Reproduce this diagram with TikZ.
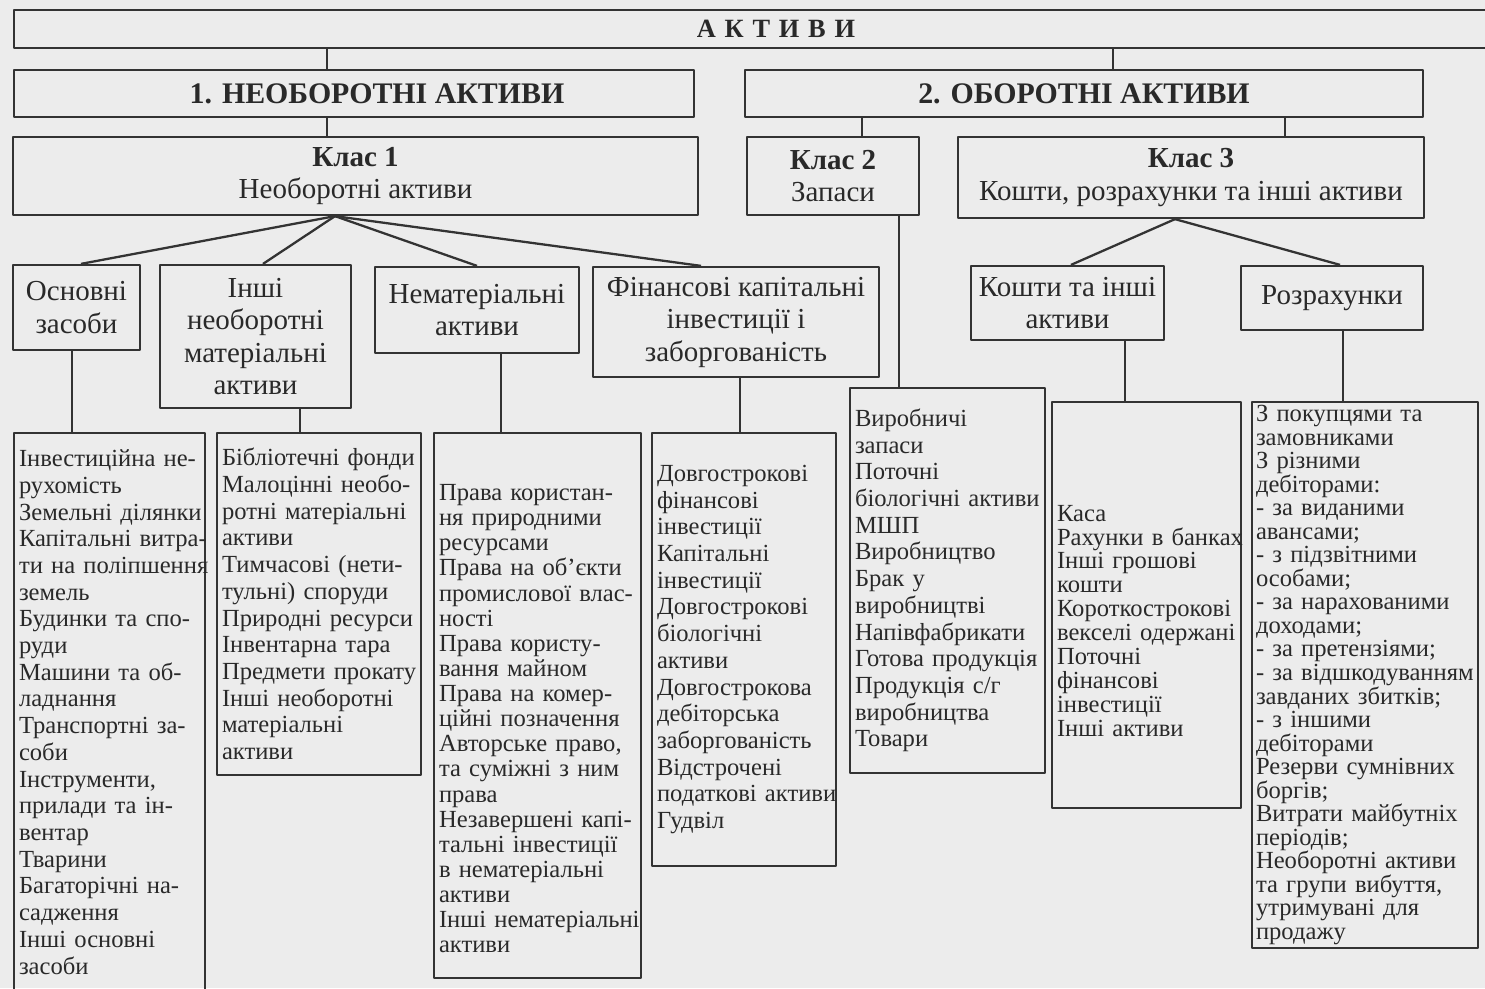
\documentclass[tikz,border=0pt]{standalone}
\usepackage{fontspec}
\setmainfont{Liberation Serif}
\definecolor{ink}{HTML}{333333}
\definecolor{paper}{HTML}{ECECEC}
\tikzset{
  box/.style = {draw=ink, line width=1.3pt, text=ink!80!black, inner sep=0pt, align=center, font=\fontsize{16.5}{18.5}\selectfont},
  title/.style = {box, font=\bfseries\fontsize{17}{19}\selectfont},
  list/.style = {draw=ink, line width=1.3pt, text=ink!80!black, inner xsep=0.1cm, inner ysep=0pt, align=left, font=\fontsize{14}{15.2}\selectfont,
    execute at begin node={\exhyphenpenalty=10000\relax\hyphenpenalty=10000\relax}},
}
\begin{document}
\begin{tikzpicture}[x=0.02cm, y=-0.02cm, color=ink, line width=1.3pt, line join=round]
    \useasboundingbox (0,0) rectangle (1485,988);
    \fill[paper] (0,0) rectangle (1485,988);

    % верхні рівні
    \node[title, font=\bfseries\fontsize{15}{17}\selectfont, minimum width=30.48cm, minimum height=0.76cm] (aktyvy) at (776,29) {А\kern5ptК\kern5ptТ\kern5ptИ\kern5ptВ\kern5ptИ};
    \node[title, minimum width=13.6cm, minimum height=0.94cm] (neob) at (354,93.5) {\hspace*{0.92cm}1. НЕОБОРОТНІ АКТИВИ};
    \node[title, minimum width=13.56cm, minimum height=0.94cm] (ob) at (1084,93.5) {2. ОБОРОТНІ АКТИВИ};

    % класи
    \node[box, minimum width=13.7cm, minimum height=1.56cm] (klas1) at (355.5,176) {\textbf{Клас 1}\\Необоротні активи};
    \node[box, minimum width=3.44cm, minimum height=1.56cm] (klas2) at (833,176) {\textbf{Клас 2}\\Запаси};
    \node[box, minimum width=9.32cm, minimum height=1.62cm] (klas3) at (1191,177.5) {\textbf{Клас 3}\\Кошти, розрахунки та інші активи};

    % групи
    \node[box, minimum width=2.54cm, minimum height=1.7cm] (osn) at (76.5,307.5) {Основні\\засоби};
    \node[box, minimum width=3.82cm, minimum height=2.86cm] (inshi) at (255.5,336.5) {Інші\\необоротні\\матеріальні\\активи};
    \node[box, minimum width=4.08cm, minimum height=1.72cm] (nemat) at (477,310) {Нематеріальні\\активи};
    \node[box, minimum width=5.72cm, minimum height=2.2cm] (fin) at (736,322) {Фінансові капітальні\\інвестиції і\\заборгованість};
    \node[box, minimum width=3.86cm, minimum height=1.48cm] (koshty) at (1067.5,303) {Кошти та інші\\активи};
    \node[box, minimum width=3.64cm, minimum height=1.28cm] (rozrah) at (1332,298) {Розрахунки};

    % переліки рахунків
    \node[list, text width=3.62cm, minimum height=11.16cm] (osnl) at (109.5,712) {Інвестиційна не-\\рухомість\\Земельні~ділянки\\Капітальні~витра-\\ти~на~поліпшення\\земель\\Будинки та спо-\\руди\\Машини та об-\\ладнання\\Транспортні~за-\\соби\\Інструменти,\\прилади та ін-\\вентар\\Тварини\\Багаторічні~на-\\садження\\Інші основні\\засоби};
    \node[list, text width=3.88cm, minimum height=6.84cm] (inshl) at (319,604) {Бібліотечні~фонди\\Малоцінні~необо-\\ротні~матеріальні\\активи\\Тимчасові~(нети-\\тульні)~споруди\\Природні~ресурси\\Інвентарна~тара\\Предмети~прокату\\Інші~необоротні\\матеріальні\\активи};
    \node[list, font=\fontsize{14}{14.3}\selectfont, text width=3.94cm, minimum height=10.9cm] (nemal) at (537.5,705.5) {\rule{0pt}{0.85cm}Права~користан-\\ня~природними\\ресурсами\\Права~на~об’єкти\\промислової~влас-\\ності\\Права~користу-\\вання~майном\\Права~на~комер-\\ційні~позначення\\Авторське~право,\\та~суміжні~з~ним\\права\\Незавершені~капі-\\тальні~інвестиції\\в~нематеріальні\\активи\\Інші~нематеріальні\\активи};
    \node[list, text width=3.48cm, minimum height=8.66cm] (finl) at (744,649.5) {Довгострокові\\фінансові\\інвестиції\\Капітальні\\інвестиції\\Довгострокові\\біологічні\\активи\\Довгострокова\\дебіторська\\заборгованість\\Відстрочені\\податкові~активи\\Гудвіл};
    \node[list, text width=3.70cm, minimum height=7.7cm] (zapl) at (947.5,580.5) {Виробничі\\запаси\\Поточні\\біологічні~активи\\МШП\\Виробництво\\Брак у\\виробництві\\Напівфабрикати\\Готова~продукція\\Продукція~с/г\\виробництва\\Товари};
    \node[list, font=\fontsize{14}{13.6}\selectfont, text width=3.58cm, minimum height=8.12cm] (kosl) at (1146.5,605) {\rule{0pt}{0.95cm}Каса\\Рахунки~в~банках\\Інші~грошові\\кошти\\Короткострокові\\векселі~одержані\\Поточні\\фінансові\\інвестиції\\Інші~активи};
    \node[list, font=\fontsize{14}{13.4}\selectfont, inner xsep=0.08cm, text width=4.36cm, minimum height=10.92cm] (rozl) at (1365,675) {З~покупцями~та\\замовниками\\З~різними\\дебіторами:\\-~за~виданими\\авансами;\\-~з~підзвітними\\особами;\\-~за~нарахованими\\доходами;\\-~за~претензіями;\\-~за~відшкодуванням\\завданих~збитків;\\-~з~іншими\\дебіторами\\Резерви~сумнівних\\боргів;\\Витрати~майбутніх\\періодів;\\Необоротні~активи\\та~групи~вибуття,\\утримувані~для\\продажу};

    % з'єднання верхніх рівнів
    \draw ([xshift=-0.54cm]neob.north) -- ([xshift=-0.54cm]neob.north |- aktyvy.south);
    \draw ([xshift=0.58cm]ob.north) -- ([xshift=0.58cm]ob.north |- aktyvy.south);
    \draw ([xshift=-0.57cm]klas1.north) -- ([xshift=-0.57cm]klas1.north |- neob.south);
    \draw ([xshift=0.58cm]klas2.north) -- ([xshift=0.58cm]klas2.north |- ob.south);
    \draw ([xshift=1.88cm]klas3.north) -- ([xshift=1.88cm]klas3.north |- ob.south);

    % віяла від класів
    \foreach \n/\s in {osn/0.09, inshi/0.15, nemat/0, fin/-0.7}
        \draw ([xshift=-0.41cm]klas1.south) -- ([xshift=\s cm]\n.north);
    \draw ([xshift=-0.32cm]klas3.south) -- ([xshift=0.07cm]koshty.north);
    \draw ([xshift=-0.32cm]klas3.south) -- ([xshift=0.16cm]rozrah.north);

    % вертикалі до переліків
    \foreach \n/\l/\s in {osn/osnl/-0.09, inshi/inshl/0.89, nemat/nemal/0.48, fin/finl/0.08, klas2/zapl/1.32, koshty/kosl/1.15, rozrah/rozl/0.22}
        \draw ([xshift=\s cm]\n.south) -- ([xshift=\s cm]\n.south |- \l.north);

\end{tikzpicture}
\end{document}
